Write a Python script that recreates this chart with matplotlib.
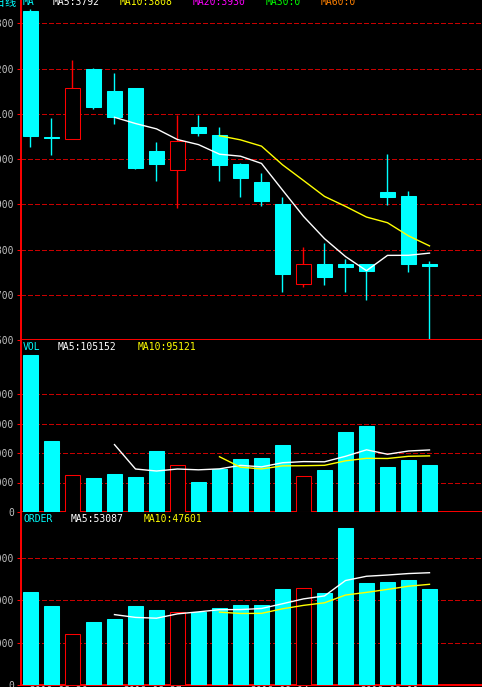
import numpy as np
import pandas as pd
import matplotlib
matplotlib.use("Agg")
import matplotlib.pyplot as plt

# ---------------------------------------------------------------------------
# Data: 20 daily bars
# ---------------------------------------------------------------------------

opens = [4327, 4049, 4044, 4200, 4150, 4156, 4018, 3976, 4070, 4052,
         3990, 3950, 3901, 3724, 3767, 3767, 3767, 3927, 3918, 3767]
highs = [4331, 4090, 4218, 4202, 4190, 4157, 4038, 4098, 4098, 4070,
         3991, 3970, 3916, 3805, 3814, 3778, 3768, 4010, 3930, 3774]
lows = [4026, 4008, 4044, 4110, 4077, 3979, 3952, 3892, 4050, 3952,
        3917, 3897, 3706, 3717, 3721, 3706, 3688, 3899, 3750, 3600]
closes = [4050, 4047, 4158, 4114, 4092, 3981, 3988, 4040, 4058, 3986,
          3959, 3908, 3746, 3767, 3740, 3761, 3752, 3915, 3768, 3764]

volumes = [266100, 120300, 62200, 57600, 64900, 59300, 103400, 79100, 50800, 72900,
           89050, 90800, 113900, 60500, 71200, 135600, 145800, 76300, 88100, 79960]
orders = [43970, 37350, 24110, 29790, 31210, 37350, 35460, 34370, 34500, 36400,
          37600, 38000, 45600, 46000, 43375, 74000, 48100, 48500, 49500, 45335]

price_ticks = [3600, 3700, 3800, 3900, 4000, 4100, 4200, 4300]
vol_ticks = [0, 50000, 100000, 150000, 200000]
order_ticks = [0, 20000, 40000, 60000]
date_labels = ["2019-08-20", "2019-08-27", "2019-09-04", "2019-09-11"]
date_px = [29, 123, 250, 360]

# ---------------------------------------------------------------------------
# Styling
# ---------------------------------------------------------------------------

W, H = 482, 687
UP = "#ff0000"
DOWN = "#00ffff"
GRID = "#c80000"
AXIS = "#ff0000"
TICK_TXT = "#c0c0c0"
MONO = ["DejaVu Sans Mono", "Noto Sans CJK SC"]

plt.rcParams["font.family"] = MONO


def ma(values, n):
    return pd.Series(values, dtype=float).rolling(n).mean().to_numpy()


def last(v):
    return 0 if np.isnan(v[-1]) else v[-1]


def panel(fig, top, bottom, ylim, ticks):
    """Add a panel spanning pixel rows top..bottom."""
    left = 21
    ax = fig.add_axes([left / W, 1 - bottom / H, 1 - left / W, (bottom - top) / H])
    ax.set_facecolor("black")
    ax.set_xlim(-0.452, 21.5)
    ax.set_ylim(*ylim)
    ax.set_yticks(ticks)
    ax.set_yticklabels([str(t) for t in ticks])
    ax.set_xticks([])
    ax.tick_params(axis="y", direction="out", length=3, width=0.75, color=AXIS,
                   labelcolor=TICK_TXT, labelsize=7, pad=2)
    ax.grid(axis="y", color=GRID, linestyle=(0, (4, 2)), linewidth=0.75,
            antialiased=False)
    ax.set_axisbelow(True)
    for side in ("top", "right"):
        ax.spines[side].set_visible(False)
    for side in ("left", "bottom"):
        ax.spines[side].set_color(AXIS)
        ax.spines[side].set_linewidth(1.4)
    return ax


def label(fig, x, y, s, color, size=7, ha="left"):
    fig.text(x / W, 1 - y / H, s, color=color, fontsize=size, ha=ha, va="baseline")


x = np.arange(len(closes))
rising = np.array(closes) > np.array(opens)
face = ["black" if r else DOWN for r in rising]
edge = [UP if r else DOWN for r in rising]

fig = plt.figure(figsize=(W / 100, H / 100), dpi=100, facecolor="black")

# Candles
ax_p = panel(fig, 0, 340, (3600, 3600 + 340 / 0.4525), price_ticks)
ax_p.vlines(x, lows, highs, colors=edge, linewidth=1.0, zorder=2)
body_h = [max(abs(c - o), 0.5) for o, c in zip(opens, closes)]
body_b = [min(o, c) for o, c in zip(opens, closes)]
ax_p.bar(x, body_h, bottom=body_b, width=0.67, color=face, edgecolor=edge,
         linewidth=0.75, zorder=3)
ma5_p, ma10_p, ma20_p = ma(closes, 5), ma(closes, 10), ma(closes, 20)
ma30_p, ma60_p = ma(closes, 30), ma(closes, 60)
ax_p.plot(x, ma5_p, color="white", linewidth=1.0, zorder=4)
ax_p.plot(x, ma10_p, color="#ffff00", linewidth=1.0, zorder=4)

# Volume
ax_v = panel(fig, 340, 512, (0, 172 / 29.5 * 50000), vol_ticks)
ax_v.bar(x, volumes, width=0.67, color=face, edgecolor=edge, linewidth=0.75, zorder=3)
ma5_v, ma10_v = ma(volumes, 5), ma(volumes, 10)
ax_v.plot(x, ma5_v, color="white", linewidth=1.0, zorder=4)
ax_v.plot(x, ma10_v, color="#ffff00", linewidth=1.0, zorder=4)

# Order
ax_o = panel(fig, 512, 685, (0, 173 / 42.3 * 20000), order_ticks)
ax_o.bar(x, orders, width=0.67, color=face, edgecolor=edge, linewidth=0.75, zorder=3)
ma5_o, ma10_o = ma(orders, 5), ma(orders, 10)
ax_o.plot(x, ma5_o, color="white", linewidth=1.0, zorder=4)
ax_o.plot(x, ma10_o, color="#ffff00", linewidth=1.0, zorder=4)

# Panel headers
label(fig, 16, 6, "日线", DOWN, size=8, ha="right")
label(fig, 23, 5, "MA", DOWN)
label(fig, 53, 5, f"MA5:{last(ma5_p):.0f}", "white")
label(fig, 120, 5, f"MA10:{last(ma10_p):.0f}", "#ffff00")
label(fig, 193, 5, f"MA20:{last(ma20_p):.0f}", "#ff00ff")
label(fig, 266, 5, f"MA30:{last(ma30_p):.0f}", "#00ff00")
label(fig, 321, 5, f"MA60:{last(ma60_p):.0f}", "#ff8000")

label(fig, 23, 350, "VOL", DOWN)
label(fig, 58, 350, f"MA5:{last(ma5_v):.0f}", "white")
label(fig, 138, 350, f"MA10:{last(ma10_v):.0f}", "#ffff00")

label(fig, 23, 522, "ORDER", DOWN)
label(fig, 71, 522, f"MA5:{last(ma5_o):.0f}", "white")
label(fig, 144, 522, f"MA10:{last(ma10_o):.0f}", "#ffff00")

# Date row, mostly below the bottom edge
for px, d in zip(date_px, date_labels):
    fig.text(px / W, 1 - 686.5 / H, d, color=TICK_TXT, fontsize=7, ha="left", va="top")

fig.savefig("out.png", dpi=100, facecolor="black")
